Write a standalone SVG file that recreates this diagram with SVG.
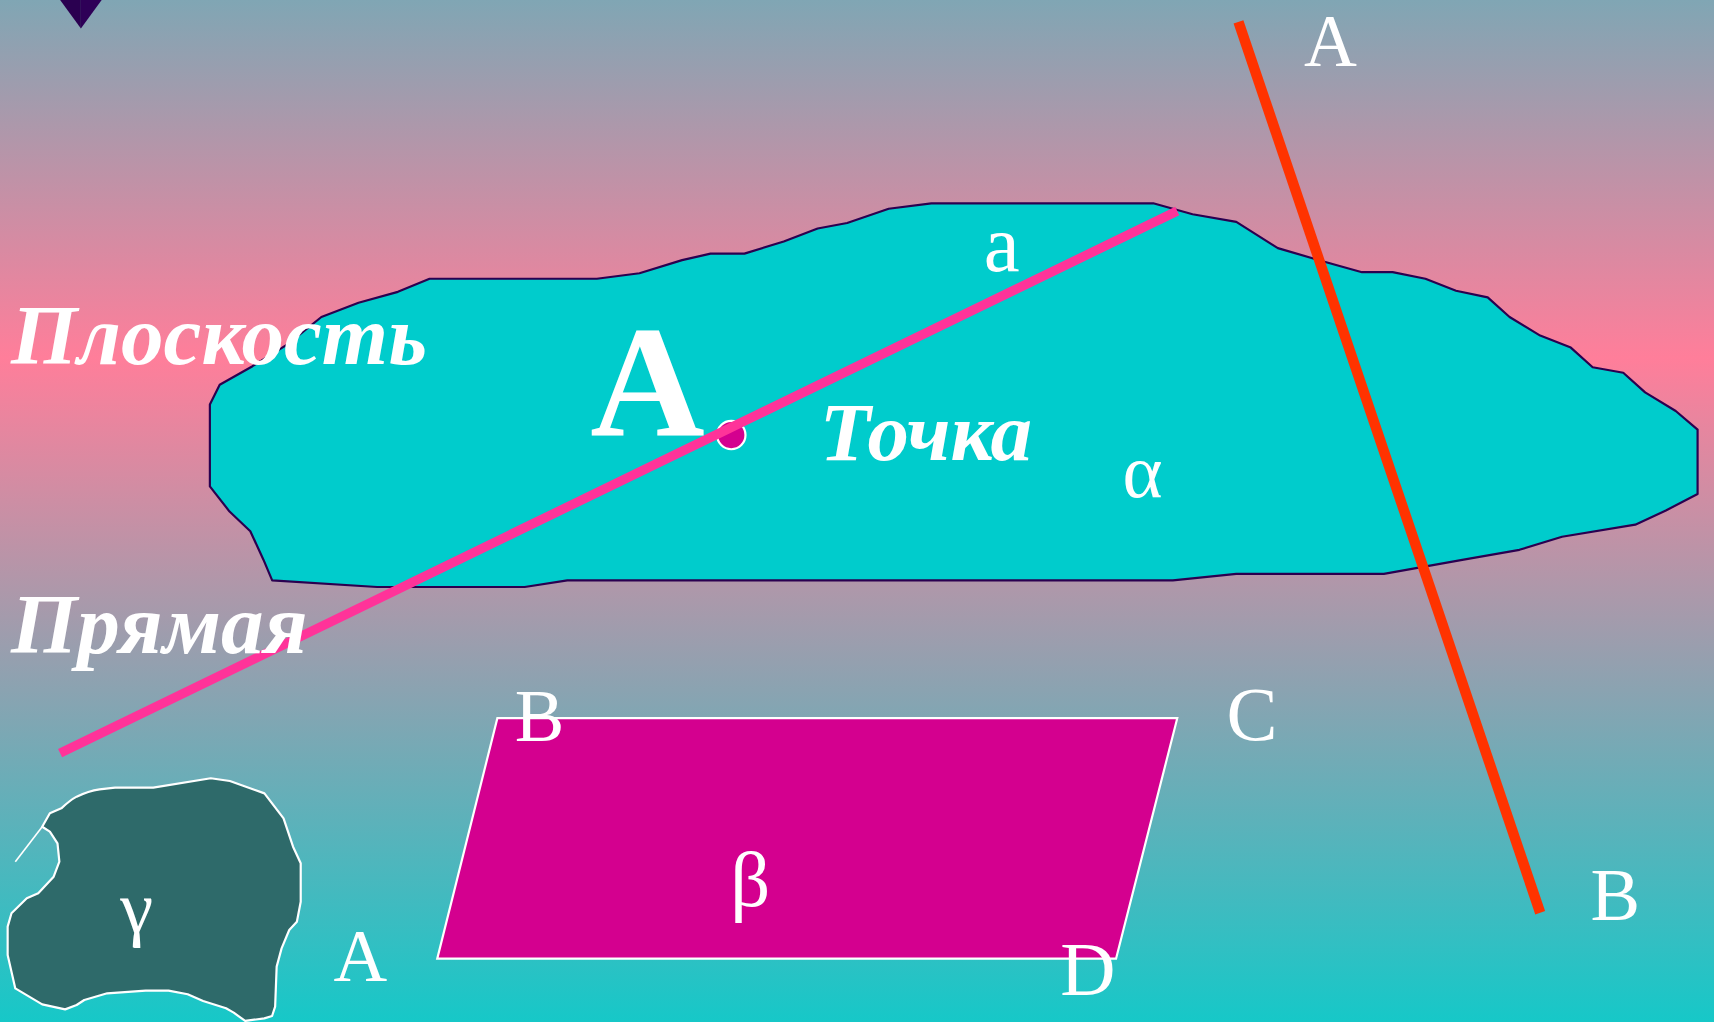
<svg xmlns="http://www.w3.org/2000/svg" width="1714" height="1022" viewBox="0 0 1714 1022">
<defs>
<linearGradient id="bg" x1="0" y1="0" x2="0" y2="1">
<stop offset="0" stop-color="#80a6b4"/>
<stop offset="0.35" stop-color="#ff7e9a"/>
<stop offset="1" stop-color="#16c8c8"/>
</linearGradient>
<style>
.lbl{font-family:"Liberation Serif","Times New Roman",serif;fill:#ffffff}
.big{font-family:"Liberation Serif","Times New Roman",serif;fill:#ffffff;font-weight:bold;font-style:italic}
</style>
</defs>
<rect x="0" y="0" width="1714" height="1022" fill="url(#bg)"/>
<g transform="scale(1.0931)">
<g id="marker-triangle">
<polygon points="55,0 74,0 74,26" fill="#2a0050"/>
<polygon points="74,0 93,0 74,26" fill="#2e0057"/>
</g>
<g id="plane-alpha">
<polygon fill="#00cccc" stroke="#2a0050" stroke-width="2" stroke-linejoin="round" points="192,370 201,352 231,335 263,315 294,290 328,277 364,267 393,255 546,255 585,250 624,238 650,232 681,232 717,221 748,209 775,204 813,191 852,186 1055,186 1091,196 1131,203 1169,227 1210,239 1246,249 1274,249 1304,255 1332,266 1361,272 1381,290 1409,307 1437,318 1457,336 1485,341 1505,359 1533,376 1553,393 1553,452 1524,467 1496,480 1429,491 1390,503 1339,512 1266,525 1131,525 1073,531 519,531 480,537 345,537 249,531 241,512 229,486 210,468 192,445"/>
</g>
<g id="plane-beta">
<polygon points="455,657 1077,657 1021,877 400,877" fill="#d4008f" stroke="#ffffff" stroke-width="2"/>
</g>
<g id="plane-gamma">
<path fill="#2e6a6a" stroke="#ffffff" stroke-width="2" stroke-linejoin="round" d="M45.6,744 L56.1,739.5 C62,734 66,731 70.1,728.8 C78,725 85,723 91.1,722.1 L105.2,720.6 L140.2,720.6 L192.8,712 L210.3,714.5 L241.9,725.8 L259.4,748.6 L268.1,774.6 L275.1,789.8 L275.1,824.9 L271.6,843.2 L264.6,850.8 L257.6,867.6 L253.1,884.3 L251.7,920.9 L248.9,929.5 L241.8,931.6 L224.3,934 L213.8,926.4 L206.8,922.4 L185.8,915.7 L171.7,909.6 L154.2,906.3 L133.2,906.3 L98.1,908.7 L77.1,914.8 L70.1,919.4 L59.6,923.4 L38.6,918.8 L14,904.2 L7,873.7 L7,847.7 L10.5,835.5 L24.5,821.8 L35,817.2 L49.1,802 L54.3,788.3 L52.6,771.5 L45.6,760.8 L38.6,756.3 Z"/>
<polyline points="38.6,756.3 14,788.3" fill="none" stroke="#ffffff" stroke-width="1.5"/>
</g>
<g id="point-A">
<circle cx="669" cy="398" r="13" fill="#d4008f" stroke="#ffffff" stroke-width="2"/>
</g>
<g id="connectors">
<line id="line-a" x1="55" y1="689" x2="1077" y2="193" stroke="#ff3399" stroke-width="8.5"/>
<line id="line-AB" x1="1133" y1="20" x2="1409" y2="835" stroke="#ff3300" stroke-width="9.5"/>
</g>
<g id="labels">
<text class="big" x="10" y="333" font-size="78">Плоскость</text>
<text class="big" x="10" y="597" font-size="78">Прямая</text>
<text class="big" x="750" y="421" font-size="76">Точка</text>
<text class="lbl" x="540" y="399" font-size="145" font-weight="bold">A</text>
<text class="lbl" x="900" y="248" font-size="74">a</text>
<text class="lbl" x="1027" y="455" font-size="70">α</text>
<text class="lbl" x="1193" y="60" font-size="67">A</text>
<text class="lbl" x="1455" y="842" font-size="68">B</text>
<text class="lbl" x="1122" y="677" font-size="70">C</text>
<text class="lbl" x="471" y="678" font-size="68">B</text>
<text class="lbl" x="970" y="910" font-size="70">D</text>
<text class="lbl" x="305" y="897" font-size="68">A</text>
<text class="lbl" x="668" y="829" font-size="72">β</text>
<text class="lbl" x="110" y="853" font-size="68">γ</text>
</g>
</g>
</svg>
